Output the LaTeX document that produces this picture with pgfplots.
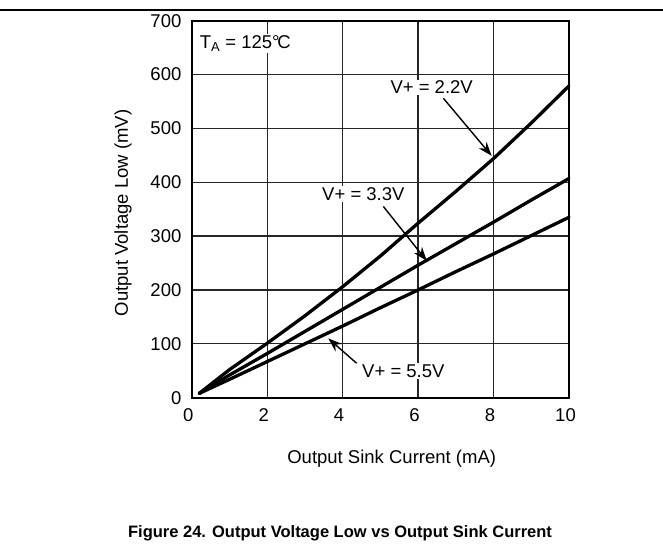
\documentclass[border=0pt]{standalone}
\usepackage{pgfplots}
\pgfplotsset{compat=1.18}
\usepackage{fontspec}
\setmainfont{Liberation Sans}
\usetikzlibrary{arrows.meta}
\begin{document}
\fontsize{18.5bp}{22bp}\selectfont
\begin{tikzpicture}[x=1bp,y=1bp]
\useasboundingbox (0,0) rectangle (663,546);
\draw[line width=1.5bp] (0,536) -- (663,536);
\begin{axis}[
  at={(191.7bp,148.3bp)}, anchor=south west,
  scale only axis, width=377.3bp, height=377bp,
  xmin=0, xmax=10, ymin=0, ymax=700,
  xtick={0,2,4,6,8,10}, ytick={0,100,...,700},
  major tick length=0pt,
  grid=major,
  major grid style={line width=1.3bp, black!85},
  axis line style={line width=2.2bp, black},
  /pgf/number format/assume math mode=true,
  tick label style={font=\fontsize{18.5bp}{22bp}\selectfont},
  xticklabel style={yshift=-5bp, xshift=-3.5bp},
  yticklabel style={xshift=-4bp},
  clip=false,
]
\addplot[line width=3.3bp, black, line cap=round, line join=round] coordinates {
(0.2,8) (1,52) (2,101) (3,152) (4,206) (5,263) (6,324) (7,383) (8,444) (9,510) (10,579)};
\addplot[line width=3.3bp, black, line cap=round, line join=round] coordinates {
(0.2,8) (1,42) (2,82) (3,123) (4,164) (5,205) (6,246) (7,286) (8,326) (9,367) (10,407)};
\addplot[line width=3.3bp, black, line cap=round, line join=round] coordinates {
(0.2,8) (1,34) (2,67) (3,100) (4,133) (5,167) (6,200) (7,234) (8,267) (9,301) (10,335)};
\coordinate (L22) at (axis cs:6.36,576);
\coordinate (L33) at (axis cs:4.55,377.5);
\coordinate (L55) at (axis cs:5.61,49.5);
\coordinate (LTA) at (axis cs:0.17,658);
\draw[line width=1.4bp, -{Stealth[length=14bp,width=10bp]}] (axis cs:6.67,556) -- (axis cs:7.95,449);
\draw[line width=1.4bp, -{Stealth[length=14bp,width=10bp]}] (axis cs:5.08,355) -- (axis cs:6.23,254);
\draw[line width=1.4bp, -{Stealth[length=14bp,width=10bp]}] (axis cs:4.37,64) -- (axis cs:3.62,110);
\node at (axis description cs:0.53,-0.163) {Output Sink Current (mA)};
\node[rotate=90] at (axis description cs:-0.182,0.49) {Output Voltage Low (mV)};
\end{axis}
\node[fill=white, inner sep=1.5bp] at (L22) {V+ = 2.2V};
\node[fill=white, inner sep=1.5bp] at (L33) {V+ = 3.3V};
\node[fill=white, inner sep=1.5bp] at (L55) {V+ = 5.5V};
\node[fill=white, inner sep=1.5bp, anchor=west] at (LTA) {T\textsubscript{A} = 125°\kern-0.12em C};
\node[font=\bfseries\fontsize{16.5bp}{20bp}\selectfont] at (340,13) {Figure 24. Output Voltage Low vs Output Sink Current};
\end{tikzpicture}
\end{document}
